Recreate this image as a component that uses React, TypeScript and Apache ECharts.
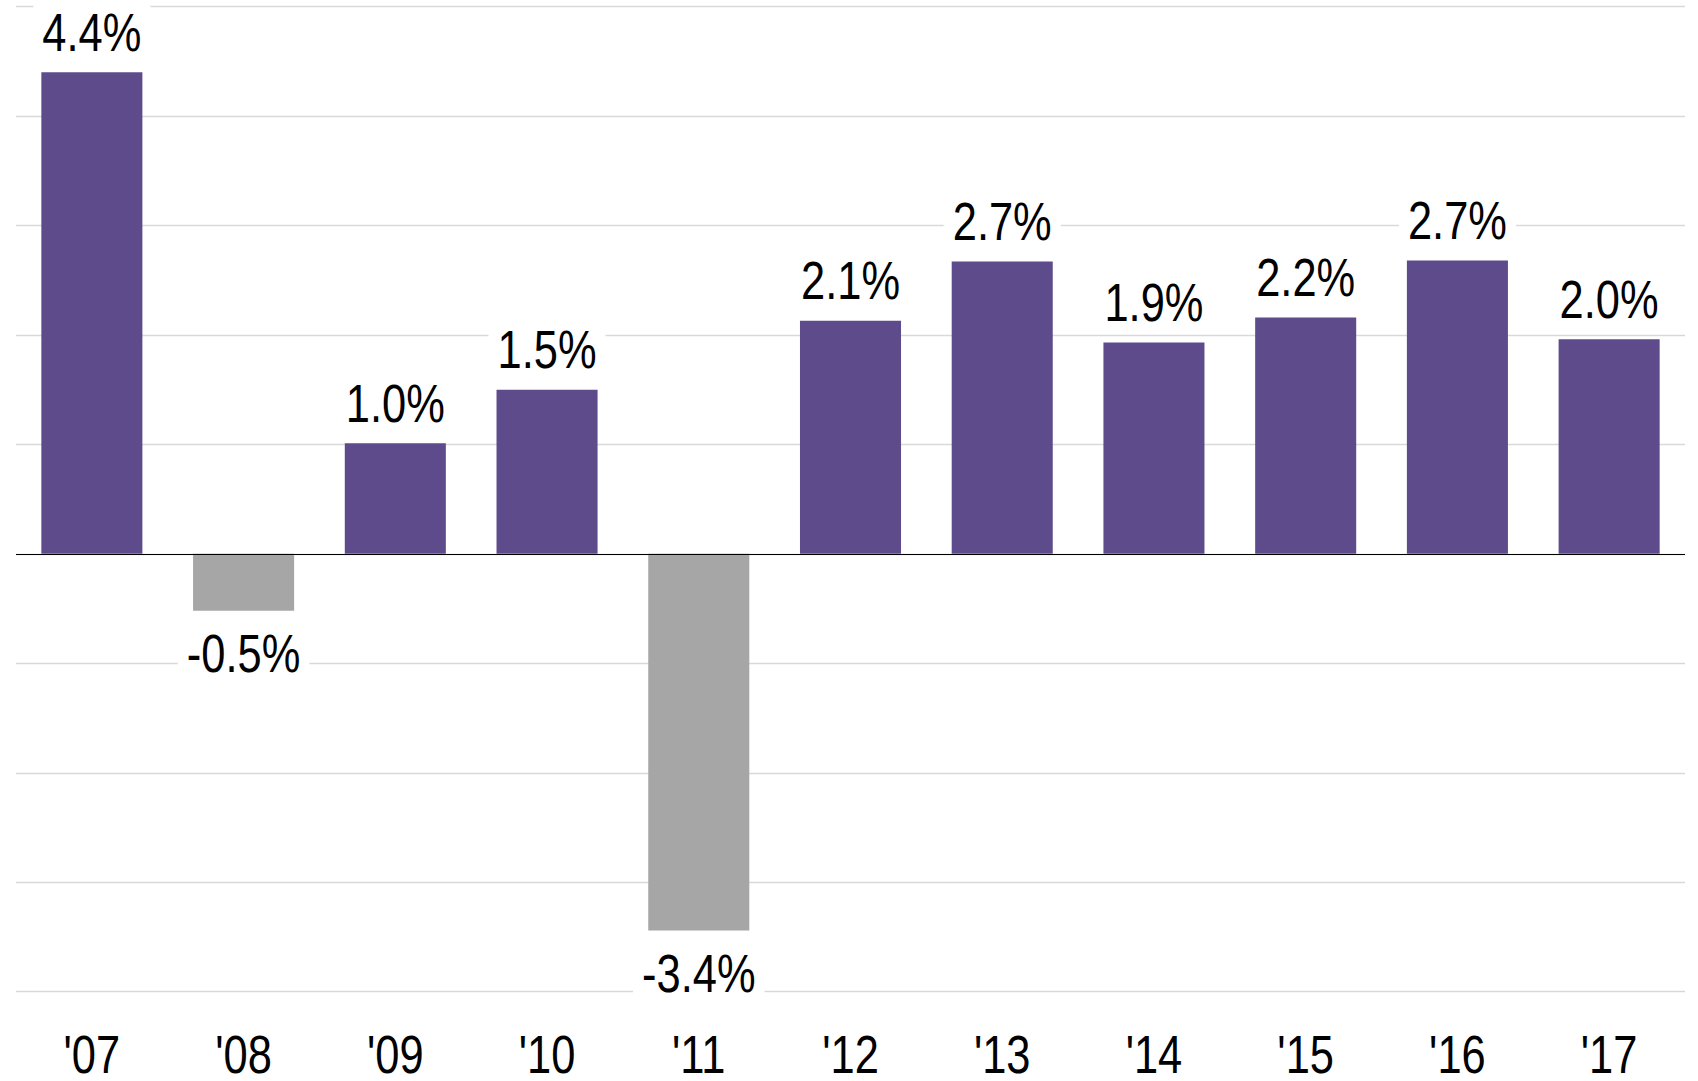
import React, { useEffect, useRef } from "react";
import * as echarts from "echarts";

const categories = ["'07", "'08", "'09", "'10", "'11", "'12", "'13", "'14", "'15", "'16", "'17"];
const growth = [4.4, -0.52, 1.01, 1.5, -3.44, 2.13, 2.67, 1.93, 2.16, 2.68, 1.96];
const yTicks = { min: -4, max: 5, interval: 1 };

const PURPLE = "#5E4B8B";
const GRAY = "#A6A6A6";
const FONT_FAMILY = "'Liberation Sans', Arial, sans-serif";
const FONT_SIZE = 53;
const NARROW = 0.82;

export default function App() {
  const ref = useRef<HTMLDivElement>(null);
  useEffect(() => {
    if (!ref.current) return;
    const chart = echarts.init(ref.current, null, { renderer: "svg" });
    const font = `${FONT_SIZE}px ${FONT_FAMILY}`;
    chart.setOption({
      animation: false,
      backgroundColor: "#ffffff",
      grid: { left: 16, right: 13, top: 6.5, bottom: 89.3, outerBoundsMode: "none" },
      xAxis: {
        type: "category",
        data: categories,
        axisLine: { show: false },
        axisTick: { show: false },
        axisLabel: { show: false },
      },
      yAxis: {
        type: "value",
        min: yTicks.min,
        max: yTicks.max,
        interval: yTicks.interval,
        axisLabel: { show: false },
        axisLine: { show: false },
        axisTick: { show: false },
        splitLine: { lineStyle: { color: "#D9D9D9", width: 1.3 } },
      },
      series: [
        {
          type: "bar",
          data: growth.map((v) => ({ value: v, itemStyle: { color: v >= 0 ? PURPLE : GRAY } })),
          barCategoryGap: "33.4%",
          markLine: {
            silent: true,
            symbol: "none",
            label: { show: false },
            lineStyle: { color: "#000", width: 1.2, type: "solid" },
            data: [{ yAxis: 0 }],
          },
        },
        {
          type: "custom",
          z: 5,
          clip: false,
          silent: true,
          data: growth.map((v, i) => [i, v]),
          renderItem: (params: any, api: any) => {
            const v = api.value(1);
            const p = api.coord([api.value(0), v]);
            const pos = v >= 0;
            return {
              type: "text",
              x: p[0],
              y: pos ? p[1] - 10 : p[1] + 13,
              scaleX: NARROW,
              style: {
                text: v.toFixed(1) + "%",
                font,
                fill: "#000",
                align: "center",
                verticalAlign: pos ? "bottom" : "top",
                lineHeight: 52,
                backgroundColor: "#ffffff",
                padding: [4, 11],
              },
            };
          },
        },
        {
          type: "custom",
          z: 5,
          clip: false,
          silent: true,
          data: categories.map((c, i) => [i, yTicks.min]),
          renderItem: (params: any, api: any) => {
            const idx = api.value(0);
            const p = api.coord([idx, api.value(1)]);
            return {
              type: "text",
              x: p[0],
              y: p[1] + 41,
              scaleX: NARROW,
              style: {
                text: categories[idx],
                font,
                fill: "#000",
                align: "center",
                verticalAlign: "top",
                lineHeight: 44,
              },
            };
          },
        },
      ],
    });
    return () => chart.dispose();
  }, []);
  return (
    <div
      ref={ref}
      style={{ position: "fixed", left: 0, top: 0, width: 1698, height: 1081, background: "#fff" }}
    />
  );
}
